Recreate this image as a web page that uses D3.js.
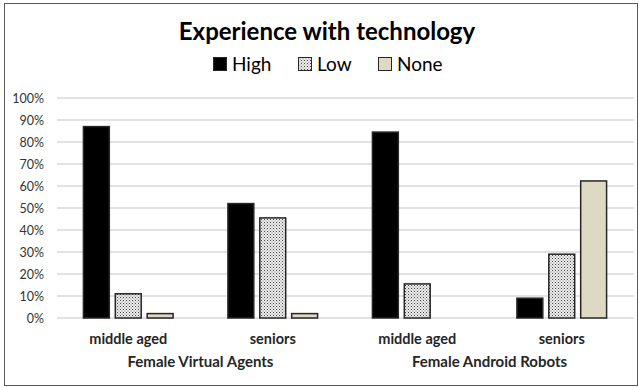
<!DOCTYPE html>
<html>
<head>
<meta charset="utf-8">
<script src="https://cdn.jsdelivr.net/npm/d3@7"></script>
<style>
  html, body { margin: 0; padding: 0; background: #fff; }
  svg { display: block; font-family: Lato, "Open Sans", sans-serif; }
</style>
</head>
<body>
<svg id="chart" width="639" height="387"></svg>
<script>
// Share of participants by experience with technology
const categories = ["middle aged", "seniors", "middle aged", "seniors"];
const groups = ["Female Virtual Agents", "Female Android Robots"];
const series = ["High", "Low", "None"];
const high = [0.87, 0.52, 0.845, 0.09];
const low = [0.11, 0.455, 0.155, 0.29];
const none = [0.02, 0.02, 0.0, 0.623];
const yTicks = [0, 0.1, 0.2, 0.3, 0.4, 0.5, 0.6, 0.7, 0.8, 0.9, 1.0];

const values = [high, low, none];
const svg = d3.select("#chart");
const W = 639, H = 387;

// dotted fill for the "Low" series
const defs = svg.append("defs");
const pat = defs.append("pattern")
  .attr("id", "dots").attr("patternUnits", "userSpaceOnUse")
  .attr("width", 3).attr("height", 3);
pat.append("rect").attr("width", 3).attr("height", 3).attr("fill", "#eeeeee");
pat.append("rect").attr("x", 0).attr("y", 0).attr("width", 1).attr("height", 1).attr("fill", "#444");
pat.append("rect").attr("x", 1.5).attr("y", 1.5).attr("width", 1).attr("height", 1).attr("fill", "#777");

const fills = { High: "#000000", Low: "url(#dots)", None: "#ddd9c3" };

// frame
svg.append("rect").attr("x", 4.5).attr("y", 3.5).attr("width", W - 6).attr("height", H - 5)
  .attr("fill", "#fff").attr("stroke", "#595959").attr("stroke-width", 1);

const x0 = d3.scaleBand().domain(d3.range(categories.length)).range([56, 634]);
const x1 = d3.scaleBand().domain(series).range([0, x0.bandwidth()])
  .paddingInner(5 / 32).paddingOuter(0.844);
const y = d3.scaleLinear().domain([0, 1]).range([318, 98]);

// gridlines
svg.append("g").selectAll("line").data(yTicks).join("line")
  .attr("x1", 57).attr("x2", 634)
  .attr("y1", d => y(d)).attr("y2", d => y(d))
  .attr("stroke", "#d9d9d9").attr("stroke-width", 1.5);

// y axis labels
const yAxis = d3.axisLeft(y).tickValues(yTicks).tickFormat(d3.format(".0%")).tickSize(0).tickPadding(0);
const ya = svg.append("g").attr("transform", "translate(44,0)").call(yAxis);
ya.select(".domain").remove();
ya.selectAll("text").attr("font-family", "Lato, sans-serif").attr("font-size", 12.5).attr("fill", "#333");

// bars
const barG = svg.append("g");
series.forEach((s, si) => {
  const data = values[si].map((v, i) => ({ i, v })).filter(d => d.v > 0);
  barG.append("g").selectAll("rect").data(data).join("rect")
    .attr("x", d => x0(d.i) + x1(s) + 0.5)
    .attr("y", d => y(d.v))
    .attr("width", x1.bandwidth() - 1)
    .attr("height", d => y(0) - y(d.v))
    .attr("fill", fills[s])
    .attr("stroke", "#262626").attr("stroke-width", 1.5);
});

// category labels
svg.append("g").selectAll("text").data(categories).join("text")
  .attr("x", (d, i) => x0(i) + x0.bandwidth() / 2)
  .attr("y", 344)
  .attr("text-anchor", "middle")
  .attr("font-size", 14.5).attr("font-weight", "bold").attr("fill", "#262626")
  .text(d => d);

// group labels
svg.append("g").selectAll("text").data(groups).join("text")
  .attr("x", (d, i) => (x0(i * 2) + x0(i * 2 + 1) + x0.bandwidth()) / 2)
  .attr("y", 367)
  .attr("text-anchor", "middle")
  .attr("font-size", 15).attr("font-weight", "bold").attr("fill", "#262626")
  .text(d => d);

// title
svg.append("text").attr("x", 327).attr("y", 40).attr("text-anchor", "middle")
  .attr("font-size", 24).attr("font-weight", "bold").attr("fill", "#000")
  .text("Experience with technology");

// legend
const legendX = [213, 298, 378];
const lg = svg.append("g").selectAll("g").data(series).join("g")
  .attr("transform", (d, i) => `translate(${legendX[i]},57)`);
lg.append("rect").attr("x", 0.5).attr("y", 0.5).attr("width", 13).attr("height", 13)
  .attr("fill", d => fills[d]).attr("stroke", "#262626").attr("stroke-width", 1);
lg.append("text").attr("x", 19).attr("y", 14)
  .attr("font-size", 19).attr("fill", "#000")
  .text(d => d);
</script>
</body>
</html>
